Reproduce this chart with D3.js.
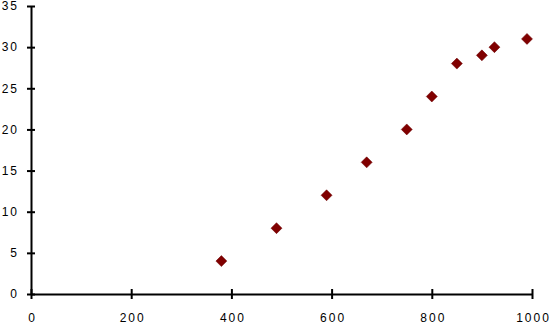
<!DOCTYPE html>
<head>
<meta charset="utf-8">
<script src="https://d3js.org/d3.v7.min.js"></script>
<style>
body{ margin:0; background:#fff; }
svg text{
   font-family: "Liberation Sans", Arial, sans-serif;
   font-size: 12px;
   letter-spacing: 2px;
   fill: #000;
}
.axis path.domain, .axis .tick line{
   stroke: #000;
   stroke-width: 2px;
}
</style>
</head>
<body>
<script>
const width = 552;
const height = 328;

// data
const xValues = [380, 490, 590, 670, 750, 800, 850, 900, 925, 990];
const yValues = [4, 8, 12, 16, 20, 24, 28, 29, 30, 31];
const xTicks = [0, 200, 400, 600, 800, 1000];
const yTicks = [0, 5, 10, 15, 20, 25, 30, 35];

const margin = {top: 6, right: 20, bottom: 34, left: 31};

const svg = d3.select("body").append("svg")
   .attr("width", width)
   .attr("height", height);

const x = d3.scaleLinear()
   .domain([0, 1000])
   .range([margin.left, 532]);

const y = d3.scaleLinear()
   .domain([0, 35])
   .range([height - margin.bottom, margin.top]);

const xAxis = d3.axisBottom(x)
   .tickValues(xTicks)
   .tickFormat(d3.format("d"))
   .tickSizeInner(5)
   .tickSizeOuter(0)
   .tickPadding(14);

const yAxis = d3.axisLeft(y)
   .tickValues(yTicks)
   .tickFormat(d3.format("d"))
   .tickSizeInner(4)
   .tickSizeOuter(0)
   .tickPadding(8);

const gx = svg.append("g")
   .attr("class", "axis")
   .attr("transform", `translate(0,${y(0)})`)
   .call(xAxis);
gx.selectAll(".tick line").attr("y1", -5);
gx.selectAll(".tick text").attr("dx", "1px");

const gy = svg.append("g")
   .attr("class", "axis")
   .attr("transform", `translate(${x(0)},0)`)
   .call(yAxis);
gy.selectAll(".tick line").attr("x2", 4).attr("x1", -4);

svg.selectAll(".axis").attr("font-family", null).attr("font-size", null);

const points = xValues.map((v, i) => ({x: v, y: yValues[i]}));
const r = 5.5;

svg.selectAll("path.pt")
   .data(points)
   .enter()
   .append("path")
   .attr("class", "pt")
   .attr("d", d => {
      const cx = x(d.x), cy = y(d.y);
      return `M${cx},${cy - r}L${cx + r},${cy}L${cx},${cy + r}L${cx - r},${cy}Z`;
   })
   .style("fill", "#800000")
   .style("stroke", "#6a0000")
   .style("stroke-width", 0.5);
</script>
</body>
